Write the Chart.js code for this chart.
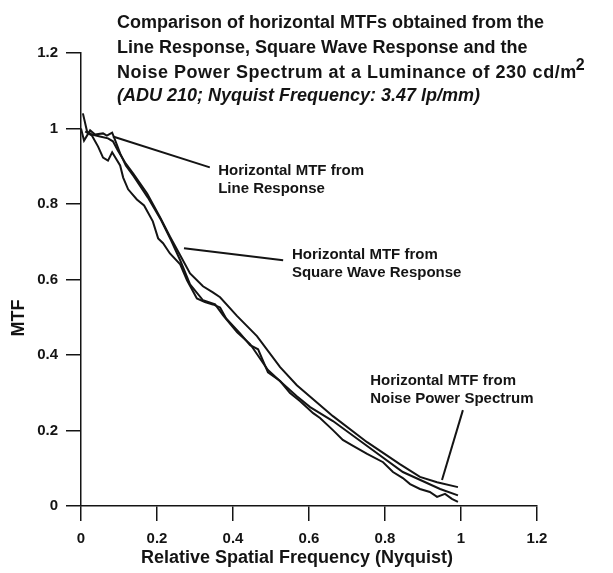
<!DOCTYPE html>
<html>
<head>
<meta charset="utf-8">
<script src="https://cdn.jsdelivr.net/npm/chart.js@4.4.0/dist/chart.umd.min.js"></script>
<style>
  html, body { margin: 0; padding: 0; background: #fff; }
  #wrap { width: 613px; height: 573px; }
</style>
</head>
<body>
<div id="wrap"><canvas id="grafico" width="613" height="573"></canvas></div>
<script>
const FONT = '"Liberation Sans", Arial, Helvetica, sans-serif';
const INK = '#141414';

// eixos
const xTicks = [0, 0.2, 0.4, 0.6, 0.8, 1, 1.2];
const yTicks = [0, 0.2, 0.4, 0.6, 0.8, 1, 1.2];

// MTF a partir da resposta de linha
const lrFreq = [0, 0.008, 0.024, 0.037, 0.058, 0.068, 0.082, 0.089, 0.103, 0.118, 0.139, 0.176, 0.211, 0.237,
  0.261, 0.287, 0.321, 0.353, 0.374, 0.411, 0.445, 0.492, 0.532, 0.568, 0.603, 0.663, 0.753, 0.847, 0.945, 0.992];
const lrMtf = [1.0, 0.968, 0.995, 0.984, 0.987, 0.981, 0.989, 0.971, 0.934, 0.902, 0.873, 0.817, 0.757, 0.704,
  0.651, 0.587, 0.545, 0.534, 0.505, 0.460, 0.429, 0.360, 0.323, 0.291, 0.262, 0.225, 0.159, 0.090, 0.045, 0.028];

// MTF a partir da resposta a onda quadrada
const swFreq = [0.011, 0.029, 0.045, 0.058, 0.071, 0.082, 0.103, 0.111, 0.124, 0.147, 0.166, 0.189, 0.203, 0.216,
  0.234, 0.261, 0.279, 0.305, 0.326, 0.347, 0.366, 0.382, 0.418, 0.445, 0.466, 0.492, 0.524, 0.550, 0.576, 0.611,
  0.629, 0.663, 0.689, 0.716, 0.753, 0.795, 0.821, 0.847, 0.866, 0.892, 0.918, 0.937, 0.958, 0.976, 0.992];
const swMtf = [0.992, 0.981, 0.952, 0.923, 0.915, 0.937, 0.902, 0.870, 0.839, 0.812, 0.796, 0.754, 0.709, 0.696,
  0.669, 0.640, 0.598, 0.550, 0.540, 0.534, 0.526, 0.497, 0.458, 0.426, 0.415, 0.354, 0.331, 0.299, 0.278, 0.246,
  0.233, 0.201, 0.175, 0.159, 0.138, 0.116, 0.090, 0.074, 0.058, 0.045, 0.037, 0.024, 0.032, 0.019, 0.011];

// MTF a partir do espectro de potencia do ruido
const npsFreq = [0.005, 0.016, 0.029, 0.050, 0.071, 0.084, 0.097, 0.116, 0.137, 0.174, 0.208, 0.234, 0.261, 0.287,
  0.321, 0.347, 0.366, 0.411, 0.463, 0.524, 0.568, 0.663, 0.753, 0.839, 0.892, 0.937, 0.992];
const npsMtf = [1.040, 0.992, 0.984, 0.979, 0.974, 0.966, 0.942, 0.910, 0.881, 0.828, 0.765, 0.714, 0.664, 0.616,
  0.582, 0.566, 0.553, 0.503, 0.450, 0.368, 0.320, 0.238, 0.169, 0.111, 0.077, 0.063, 0.050];

// linhas de chamada: [x1, y1, x2, y2] em unidades dos eixos
const leaders = [
  [0.084, 0.979, 0.339, 0.897],
  [0.271, 0.683, 0.532, 0.651],
  [1.005, 0.254, 0.950, 0.069]
];
const leaderText = [
  ['Horizontal MTF from', 'Line Response'],
  ['Horizontal MTF from', 'Square Wave Response'],
  ['Horizontal MTF from', 'Noise Power Spectrum']
];
const leaderAt = [[0.361, 0.889], [0.555, 0.664], [0.761, 0.331]];

function pontos(xs, ys) {
  return xs.map((x, i) => ({ x, y: ys[i] }));
}

const serie = (label, xs, ys) => ({
  label,
  data: pontos(xs, ys),
  borderColor: INK,
  borderWidth: 2,
  pointRadius: 0,
  tension: 0,
  fill: false
});

// titulo, textos das chamadas e titulos dos eixos
const textos = {
  id: 'textos',
  afterDatasetsDraw(chart) {
    const { ctx, scales: { x, y } } = chart;
    ctx.save();
    ctx.strokeStyle = INK;
    ctx.lineWidth = 2;
    leaders.forEach(l => {
      ctx.beginPath();
      ctx.moveTo(x.getPixelForValue(l[0]), y.getPixelForValue(l[1]));
      ctx.lineTo(x.getPixelForValue(l[2]), y.getPixelForValue(l[3]));
      ctx.stroke();
    });

    ctx.fillStyle = INK;
    ctx.textBaseline = 'middle';
    ctx.font = 'bold 15px ' + FONT;
    leaderText.forEach((linhas, i) => {
      const px = x.getPixelForValue(leaderAt[i][0]);
      const py = y.getPixelForValue(leaderAt[i][1]);
      linhas.forEach((t, k) => ctx.fillText(t, px, py + k * 18));
    });

    // titulo
    ctx.textBaseline = 'alphabetic';
    ctx.font = 'bold 18px ' + FONT;
    ctx.fillText('Comparison of horizontal MTFs obtained from the', 117, 28);
    ctx.fillText('Line Response, Square Wave Response and the', 117, 53);
    const l3 = 'Noise Power Spectrum at a Luminance of 230 cd/m';
    ctx.letterSpacing = '0.5px';
    ctx.fillText(l3, 117, 78);
    const w3 = ctx.measureText(l3).width;
    ctx.letterSpacing = '0px';
    ctx.font = 'bold 16px ' + FONT;
    ctx.fillText('2', 117 + w3 - 1, 70);
    ctx.font = 'italic bold 18px ' + FONT;
    ctx.fillText('(ADU 210; Nyquist Frequency: 3.47 lp/mm)', 117, 101);

    // titulos dos eixos
    ctx.font = 'bold 18px ' + FONT;
    ctx.textAlign = 'center';
    ctx.fillText('Relative Spatial Frequency (Nyquist)', 297, 563);
    ctx.translate(24, 318);
    ctx.rotate(-Math.PI / 2);
    ctx.fillText('MTF', 0, 0);
    ctx.restore();
  }
};

const eixo = (ticks) => ({
  type: 'linear',
  min: 0,
  max: 1.2,
  afterBuildTicks: s => { s.ticks = ticks.map(v => ({ value: v })); },
  grid: { drawOnChartArea: false, drawTicks: true, tickLength: 15, color: INK, lineWidth: 1.5 },
  border: { display: true, color: INK, width: 1.5 },
  ticks: {
    color: INK,
    font: { family: FONT, size: 15, weight: 'bold' },
    callback: v => String(Math.round(v * 10) / 10)
  }
});

const xScale = eixo(xTicks);
xScale.ticks.padding = 9;
xScale.afterFit = s => { s.height = 67; };
const yScale = eixo(yTicks);
yScale.ticks.padding = 8;
yScale.afterFit = s => { s.width = 81; };

new Chart(document.getElementById('grafico'), {
  type: 'line',
  data: {
    datasets: [
      serie('Line Response', lrFreq, lrMtf),
      serie('Square Wave Response', swFreq, swMtf),
      serie('Noise Power Spectrum', npsFreq, npsMtf)
    ]
  },
  options: {
    responsive: false,
    animation: false,
    layout: { padding: { left: 0, right: 76, top: 53, bottom: 0 } },
    plugins: {
      legend: { display: false },
      tooltip: { enabled: false }
    },
    scales: { x: xScale, y: yScale }
  },
  plugins: [textos]
});
</script>
</body>
</html>
